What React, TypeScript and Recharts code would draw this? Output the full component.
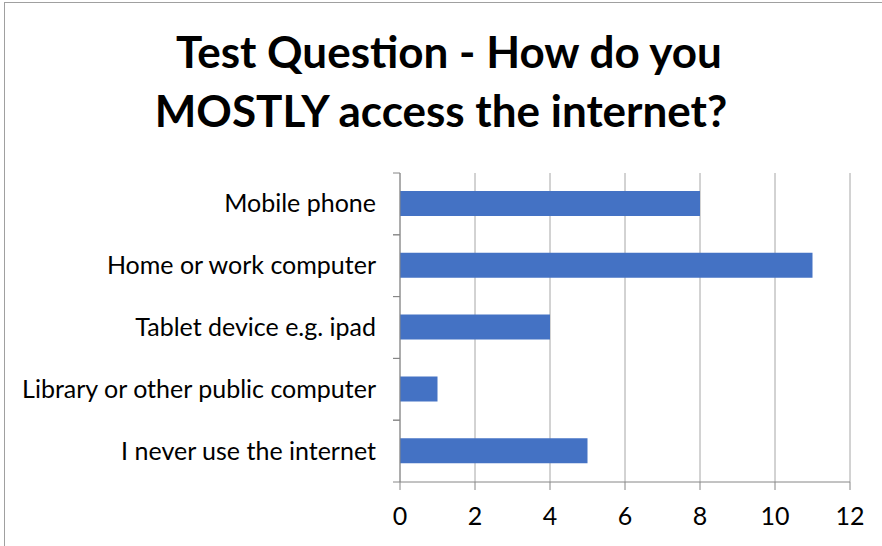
import { BarChart, Bar, XAxis, YAxis, CartesianGrid } from 'recharts';

// =============================================================================
// Data
// =============================================================================

const CATEGORIES = [
  'Mobile phone',
  'Home or work computer',
  'Tablet device e.g. ipad',
  'Library or other public computer',
  'I never use the internet',
];

const RESPONSES = [8, 11, 4, 1, 5];

const X_TICKS = [0, 2, 4, 6, 8, 10, 12];

const TITLE_LINES = ['Test Question - How do you', 'MOSTLY access the internet?'];

const chartData = CATEGORIES.map((name, i) => ({ name, value: RESPONSES[i] }));

// =============================================================================
// Styles
// =============================================================================

const FONT = 'Lato, Carlito, Calibri, sans-serif';
const BAR_COLOR = '#4472C4';
const AXIS_COLOR = '#868686';
const GRID_COLOR = '#a6a6a6';
const LABEL_SIZE = 25;

// Category tick: label plus a short tick mark at each band boundary
function CategoryTick(props: any) {
  const { x, y, payload } = props;
  const half = payload?.offset ?? 30.9;
  const axisX = x + 8; // recharts hands us x - tickSize - tickMargin
  return (
    <g>
      <line x1={axisX - 7} x2={axisX} y1={y - half} y2={y - half} stroke={AXIS_COLOR} />
      <line x1={axisX - 7} x2={axisX} y1={y + half} y2={y + half} stroke={AXIS_COLOR} />
      <text
        x={axisX - 24}
        y={y}
        dy={8.5}
        textAnchor="end"
        fontFamily={FONT}
        fontSize={LABEL_SIZE}
        fill="#000"
      >
        {payload.value}
      </text>
    </g>
  );
}

export default function App() {
  return (
    <div
      style={{
        position: 'absolute',
        left: 0,
        top: 0,
        width: 882,
        height: 546,
        overflow: 'hidden',
        background: '#fff',
        fontFamily: FONT,
      }}
    >
      {/* chart border, cropped on the right and bottom */}
      <div
        style={{
          position: 'absolute',
          left: 4,
          top: 2,
          width: 1000,
          height: 1000,
          border: '1px solid #a0a0a0',
        }}
      />

      {/* Title */}
      {TITLE_LINES.map((line, i) => (
        <div
          key={line}
          style={{
            position: 'absolute',
            left: i === 0 ? 8 : 0,
            width: 882,
            top: 26 + i * 59,
            textAlign: 'center',
            fontSize: 44,
            fontWeight: 700,
            lineHeight: '50px',
            color: '#000',
            whiteSpace: 'nowrap',
          }}
        >
          {line}
        </div>
      ))}

      <div style={{ position: 'absolute', left: 0, top: 0 }}>
        <BarChart
          width={882}
          height={546}
          data={chartData}
          layout="vertical"
          margin={{ top: 173, right: 32, bottom: 24, left: 0 }}
          barSize={25}
        >
          <CartesianGrid horizontal={false} stroke={GRID_COLOR} strokeWidth={1} />
          <XAxis
            type="number"
            domain={[0, 12]}
            ticks={X_TICKS}
            height={40}
            interval={0}
            stroke={AXIS_COLOR}
            tickSize={8}
            tickLine={{ stroke: AXIS_COLOR }}
            tick={{ fill: '#000', fontSize: LABEL_SIZE, fontFamily: FONT, dy: 15 }}
          />
          <YAxis
            type="category"
            dataKey="name"
            width={400}
            interval={0}
            stroke={AXIS_COLOR}
            tickLine={false}
            tick={<CategoryTick />}
          />
          <Bar dataKey="value" fill={BAR_COLOR} isAnimationActive={false} />
        </BarChart>
      </div>
    </div>
  );
}
